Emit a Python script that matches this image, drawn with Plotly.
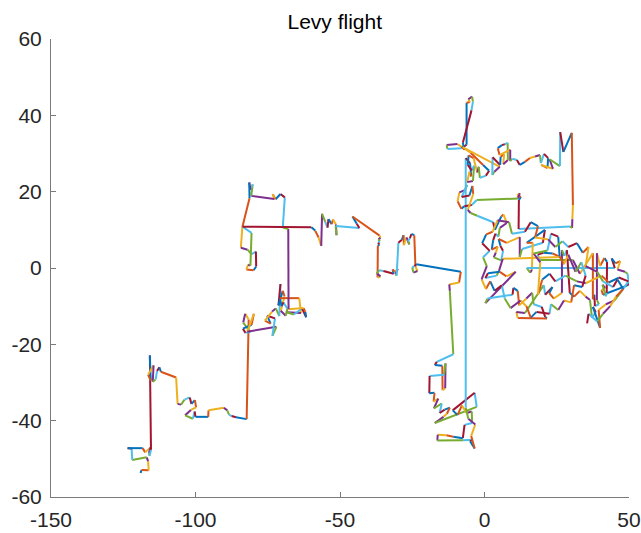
import plotly.graph_objects as go

# Levy flight path, split into legs (walk order preserved across legs)
sw_x = [-119.0, -118.7, -116.2, -116.4, -116.9, -121.9, -122.1, -123.5, -118.3, -117.4,
        -115.6, -116.1, -115.9, -115.4, -115.8, -115.5, -116.4, -114.5, -114.8, -113.8,
        -113.3, -112.5, -112.0, -106.7, -106.2, -105.0, -103.8, -102.0, -101.4, -100.2,
        -99.8, -101.6, -103.6, -100.9, -100.3, -100.0, -95.6, -95.5, -90.2, -89.0,
        -88.4, -87.5, -86.0, -82.3, -81.6]
sw_y = [-53.7, -52.9, -53.0, -50.6, -49.6, -50.3, -47.3, -47.2, -47.2, -48.3,
        -47.0, -48.5, -49.2, -47.6, -22.9, -29.5, -28.0, -25.5, -29.8, -29.2,
        -27.0, -26.0, -27.2, -28.7, -35.6, -35.8, -34.5, -33.9, -35.6, -34.6,
        -36.5, -37.2, -38.6, -39.5, -37.6, -39.0, -39.0, -37.3, -36.6, -37.3,
        -38.4, -38.8, -39.1, -39.6, -13.5]

west_x = [-82.8, -83.5, -81.0, -82.7, -83.6, -80.6, -79.8, -82.1, -72.0, -73.4,
          -72.5, -75.2, -74.0, -76.0, -73.5, -72.2, -71.0, -70.6, -71.3, -69.8,
          -69.2, -70.5, -68.8, -68.2, -69.6, -70.2, -70.8, -64.1, -63.5, -68.4,
          -66.0, -63.1, -61.7, -62.0, -62.6, -67.8, -67.9, -69.8, -69.1, -70.6,
          -72.3, -73.3, -72.7, -80.7, -80.2, -81.0, -81.4, -81.3, -83.8, -84.3,
          -82.0, -80.6, -79.1, -79.0, -79.9, -82.4, -81.8, -81.0, -80.6, -83.7,
          -59.9]
west_y = [-12.0, -14.3, -16.8, -17.0, -15.9, -14.9, -12.0, -16.7, -15.4, -17.8,
          -13.2, -12.5, -14.6, -13.8, -11.4, -10.6, -12.6, -4.2, -9.8, -6.0,
          -7.4, -11.2, -12.5, -10.6, -9.0, -10.0, -7.9, -7.9, -11.8, -11.6,
          -12.2, -10.6, -12.9, -11.5, -10.5, -10.8, 10.2, 10.6, 18.5, 19.4,
          18.0, 19.3, 18.1, 18.9, 21.9, 20.5, 22.4, 18.3, 10.7, 5.3,
          4.8, 3.6, 4.3, 0.4, -0.6, -0.4, 0.9, 0.6, 9.2, 10.8,
          10.7]

mid_x = [-58.6, -57.4, -56.5, -56.2, -55.1, -54.3, -54.0, -52.9, -52.4, -51.4,
         -51.2, -51.5, -43.3, -44.2, -45.7, -36.3, -36.0, -36.7, -36.2, -36.8,
         -36.4, -36.9, -37.0, -36.0, -37.3, -36.5, -35.0, -31.4, -31.8, -31.0,
         -30.0, -30.8, -30.4, -29.8, -28.6, -28.0, -27.9, -27.0, -26.0, -26.5,
         -25.8, -25.3, -24.3, -23.9, -23.2, -24.6, -25.0, -24.2, -23.6, -8.2,
         -8.8, -12.2, -12.0, -10.8]
mid_y = [9.8, 8.0, 5.8, 14.2, 12.1, 10.6, 12.8, 11.5, 12.7, 11.4,
         8.6, 11.0, 10.5, 11.6, 13.5, 8.5, 7.9, 7.5, 7.0, 6.6,
         6.1, 5.8, -2.5, -2.2, -1.4, -0.6, -0.8, -1.5, -0.4, -1.0,
         -0.2, -1.6, -2.0, 6.6, 7.4, 8.6, 6.0, 8.0, 6.2, 7.0,
         7.8, 8.9, 8.6, 0.4, -0.8, -1.2, 0.2, 0.5, 1.0, -1.0,
         -3.8, -4.3, -6.0, -22.6]

drop_x = [-16.5, -17.2, -14.6, -14.5, -13.6, -13.5, -14.0, -19.0, -19.1, -17.3,
          -17.6, -16.0, -17.5, -14.8, -15.5, -13.8, -12.0, -13.0, -14.2, -17.2,
          -2.7, -3.4, -11.0, -9.3, -7.8, -6.2, -4.4, -4.3, -6.9, -7.5,
          -10.8, -13.2, -16.2, -16.3, -7.4, -4.1, -5.0, -3.4, -4.6, -3.2,
          -5.6, -6.5]
drop_y = [-24.6, -25.4, -25.6, -32.0, -31.5, -25.0, -28.0, -28.3, -32.8, -32.7,
          -35.0, -34.2, -36.8, -35.5, -38.0, -37.1, -36.6, -38.2, -39.0, -40.6,
          -36.4, -32.7, -37.3, -38.5, -36.0, -38.0, -37.6, -40.6, -41.1, -44.6,
          -44.2, -43.8, -43.7, -45.2, -45.1, -45.0, -45.4, -47.3, -44.0, -41.0,
          -39.5, -36.6]

north_x = [-6.5, -5.0, -4.6, -5.2, -6.0, -4.0, -3.6, -4.4, -5.8, -5.5,
           -3.8, -2.5, -2.0, -1.6, 0.5, 1.6, -0.5, -4.8, -9.4, -13.1,
           -12.8, -7.9, -6.2, -6.2, -5.0, -5.6, -4.3, -4.0, -4.5, -7.5,
           -7.0, -7.6, 5.3, 3.4, 2.7, 2.8, 5.4, 5.6, 6.8, 6.5,
           8.1, 8.0, 7.0, 6.0, 4.6, 5.2, 8.9, 8.9, 9.6, 11.2,
           12.2, 14.0, 15.7, 17.5, 19.2, 19.5, 20.6, 22.0, 21.8, 19.6,
           23.7, 22.5, 26.1, 26.2, 27.3, 30.2, 30.6, 30.4, 30.3, 29.6,
           11.8, 11.9, 12.6, 11.3, 12.2, 11.6]
north_y = [28.8, 27.5, 24.0, 25.2, 22.5, 22.8, 26.8, 25.6, 27.0, 29.5,
           28.8, 25.0, 26.5, 23.6, 24.2, 25.5, 27.0, 30.2, 32.5, 32.2,
           31.2, 31.4, 32.3, 43.3, 43.5, 44.2, 44.9, 43.6, 41.3, 32.8,
           31.0, 31.7, 26.5, 25.2, 24.4, 29.0, 27.0, 29.2, 29.8, 27.2,
           28.3, 32.8, 32.4, 32.2, 31.4, 29.6, 31.0, 28.0, 28.6, 28.3,
           27.0, 27.8, 28.8, 29.2, 29.6, 27.5, 29.9, 28.8, 26.2, 27.0,
           26.0, 28.5, 26.7, 35.6, 30.4, 35.4, 16.5, 12.8, 10.5, 10.9,
           10.2, 17.8, 18.6, 19.0, 19.6, 18.2]

east_x = [-2.7, -4.4, -7.0, -8.0, -9.3, -8.7, -6.8, -6.0, -7.9, -5.2,
          -4.2, -3.9, -5.8, -4.8, -2.5, 3.0, 3.6, 5.8, 6.6, 7.7,
          5.3, 4.8, 3.8, 3.0, 2.5, 4.6, 3.9, 3.2, 5.8, 6.4,
          5.5, 4.9, 7.7, 12.2, 12.2, 13.0, 20.2, 20.9, 14.6, 16.7,
          16.4, 15.8, 14.6, 45.1, 44.0, 45.3, 47.0, 46.0, 48.6, 49.5,
          50.0, 49.3, 41.0, 40.5, 41.8, 40.8, 42.0, 42.3, 42.4, 41.5,
          40.0, 38.9, 38.9, 39.6, 38.2, 38.0, 37.5, 37.5, 33.0, 30.6,
          19.2, 18.4, 20.4, 23.6, 26.1, 6.3, 5.0, 4.2, 0.3, 1.2,
          5.3, 7.6, 10.8, 0.3, 1.0, 9.7, 10.0, 11.5, 12.0, 14.5,
          16.5, 17.0, 19.8, 21.0, 21.6, 11.5, 11.0, 14.0, 20.5, 21.0,
          23.5, 22.4, 24.0, 26.8, 26.8, 27.6, 28.5, 29.5, 31.0, 33.0,
          35.0, 36.5, 37.2, 38.5, 37.5, 40.0, 39.5, 42.0, 45.0, 47.5,
          49.8, 46.5, 43.0, 40.5, 35.0, 32.0, 28.0, 24.5, 22.5, 20.0,
          18.5, 19.3, 17.0, 21.8, 23.0, 25.5, 26.0]
east_y = [17.8, 16.5, 16.2, 15.5, 17.5, 19.8, 20.4, 21.8, 18.6, 19.0,
          21.5, 19.4, 15.2, 14.4, 13.7, 12.0, 10.0, 13.5, 14.0, 11.8,
          10.5, 8.2, 9.0, 7.3, 4.8, 5.6, 4.0, 2.8, 2.0, 4.5,
          5.8, 7.6, 6.6, 8.1, 2.9, 5.0, 6.6, 10.0, 6.6, 6.6,
          -0.5, -1.2, 0.0, 0.0, 2.5, 1.2, 1.8, -0.4, -1.0, -1.5,
          -4.2, -4.6, -7.0, -5.8, -5.2, -4.4, -7.4, -6.5, 1.6, 2.6,
          0.5, 3.9, -8.4, -9.5, -10.0, -7.0, -8.2, 3.9, -1.5, 2.1,
          2.1, 3.5, 4.0, 3.8, 2.9, 2.4, -0.8, -2.0, -2.6, -1.4,
          -1.0, -2.2, -1.0, -9.2, -8.0, -7.0, -5.2, -6.0, -9.8, -8.0,
          -6.5, -9.5, -10.2, -12.8, -13.2, -13.1, -11.5, -11.8, -4.5, -7.0,
          -5.0, -6.6, -8.0, -6.5, 4.7, 3.2, 4.7, -6.5, -7.5, -6.0,
          -7.5, -8.4, -13.1, -11.5, -10.2, -15.7, -11.0, -9.5, -8.5, -6.0,
          -3.5, -2.5, -3.8, -2.0, -4.0, -3.5, -2.0, -3.5, -1.5, -3.0,
          -7.0, 1.5, 3.8, 4.6, 9.0, 8.2, 3.0]

# final wander back and forth through the eastern cluster
tail_x = [27.5, 29.0, 31.5, 33.5, 35.0, 33.8, 31.0, 30.0, 27.5, 25.5,
          23.0, 22.5, 18.0, 16.0, 14.5, 12.5, 9.0, 7.0, 6.0, 3.5,
          2.0, 0.5, -1.0, 0.8, -0.5, 1.8, -0.8, 0.6, 2.8, 4.5,
          8.5, 9.5, 14.0, 16.0, 18.5, 17.5, 22.0, 24.5, 27.0, 29.0,
          32.0, 34.0, 36.0, 35.0, 39.0, 41.0, 44.5, 46.0, 48.0, 45.5,
          43.5, 41.0, 39.0, 36.0, 35.5]
tail_y = [1.0, 3.5, -1.0, 1.5, -2.0, -5.0, -4.5, -9.0, -8.5, -11.0,
          -9.5, -12.0, -11.5, -13.0, -10.0, -8.5, -10.5, -8.0, -4.5, -6.0,
          -3.5, -5.5, -3.0, 0.5, 2.8, 4.5, 6.5, 8.8, 9.5, 12.5,
          12.0, 9.0, 9.5, 12.0, 11.0, 8.0, 7.5, 5.5, 7.0, 5.5,
          6.5, 4.0, 5.5, 0.5, -1.0, -3.5, -5.0, -3.0, -5.5, -7.5,
          -10.0, -12.0, -14.0, -12.0, -14.5]

x_ticks = [-150, -100, -50, 0, 50]
x_tick_text = ["-150", "-100", "-50", "0", "50"]
y_ticks = [-60, -40, -20, 0, 20, 40, 60]
y_tick_text = ["-60", "-40", "-20", "0", "20", "40", "60"]

# MATLAB default colour order, cycled once per plotted step
color_order = ["#0072BD", "#D95319", "#EDB120", "#7E2F8E",
               "#77AC30", "#4DBEEE", "#A2142F"]

path_x = sw_x + west_x + mid_x + drop_x + north_x + east_x + tail_x
path_y = sw_y + west_y + mid_y + drop_y + north_y + east_y + tail_y

fig = go.Figure()
for i in range(len(path_x) - 1):
    fig.add_trace(go.Scatter(
        x=[path_x[i], path_x[i + 1]],
        y=[path_y[i], path_y[i + 1]],
        mode="lines",
        line=dict(color=color_order[i % len(color_order)], width=2),
        showlegend=False,
        hoverinfo="skip",
    ))

axis_color = "#7a7a7a"
font_family = "Liberation Sans, Arial, Helvetica, sans-serif"
common_axis = dict(
    showgrid=False, zeroline=False, showline=True, linecolor=axis_color,
    linewidth=1, ticks="inside", ticklen=5, tickcolor=axis_color,
    tickwidth=1, mirror=False, automargin=False,
    tickfont=dict(family=font_family, size=21, color="#262626"),
)

fig.update_layout(
    width=641, height=533,
    margin=dict(l=51, r=12, t=39, b=36),
    paper_bgcolor="white", plot_bgcolor="white",
    title=dict(text="Levy flight", x=0.491, xref="paper", xanchor="center",
               y=1 - 22 / 533, yref="container", yanchor="middle",
               font=dict(family=font_family, size=21, color="#000000")),
    xaxis=dict(range=[-150, 50], tickvals=x_ticks, ticktext=x_tick_text,
               ticklabelstandoff=4, **common_axis),
    yaxis=dict(range=[-60, 60], tickvals=y_ticks, ticktext=y_tick_text,
               ticklabelstandoff=4, **common_axis),
)

fig.write_html("out.html")
